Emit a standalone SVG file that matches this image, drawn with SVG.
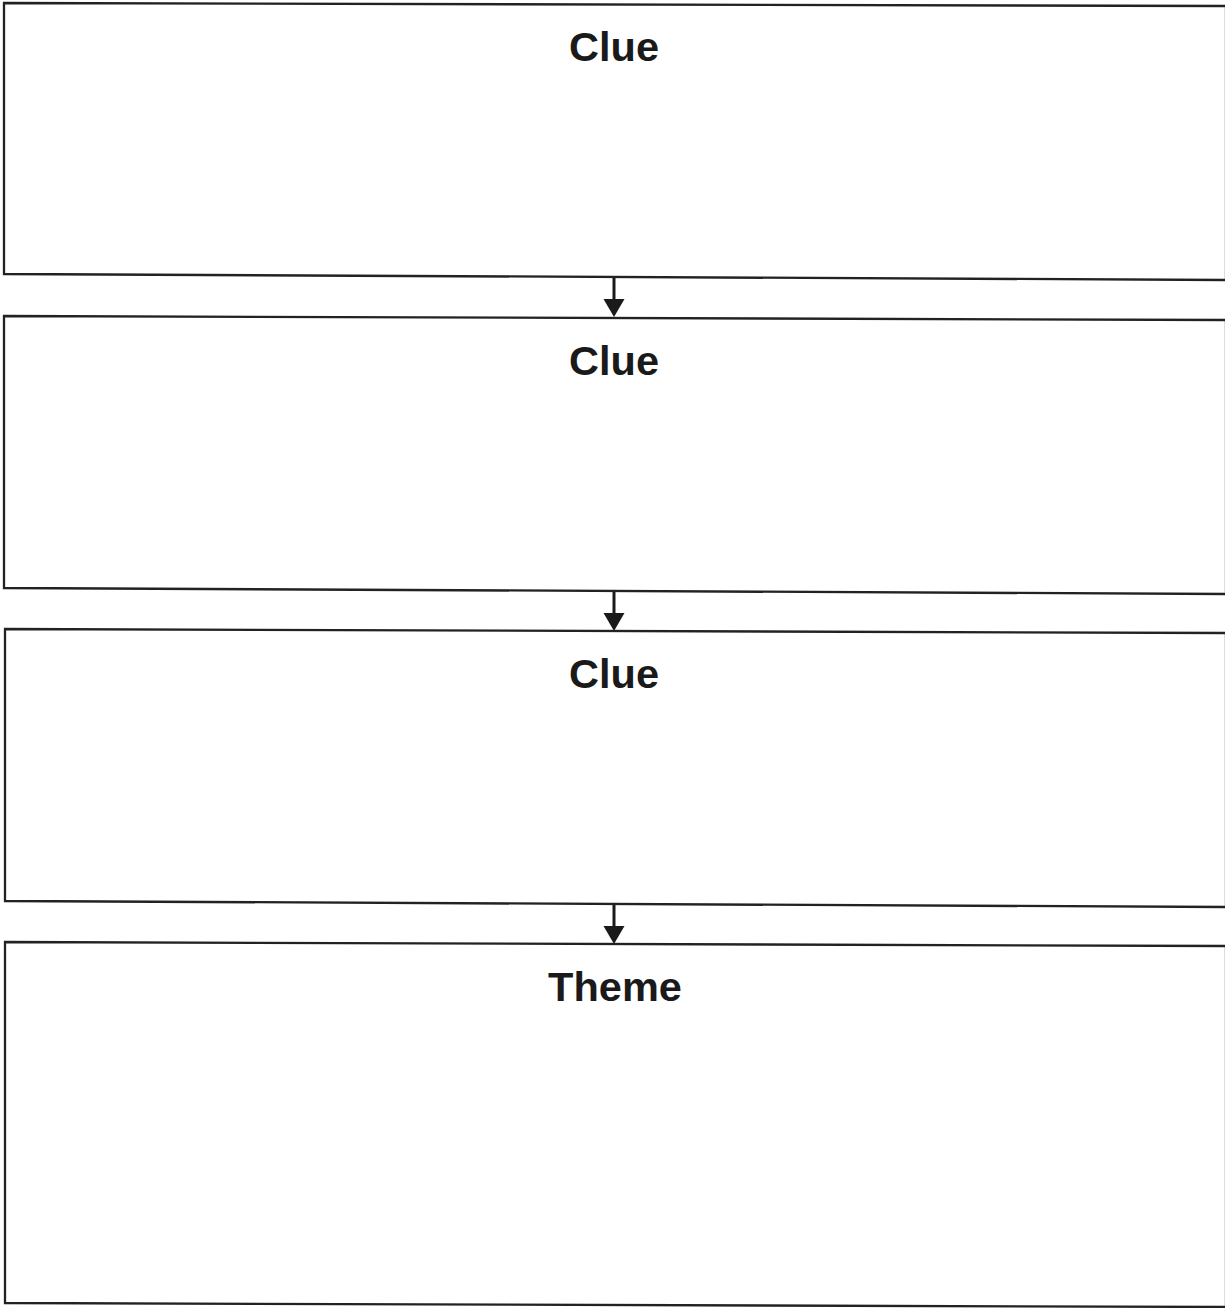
<svg xmlns="http://www.w3.org/2000/svg" width="1225" height="1308" viewBox="0 0 1225 1308">
<style>
.box{fill:#fff;stroke:#222;stroke-width:2.3}
.lbl{font-family:"Liberation Sans",Arial,sans-serif;font-weight:bold;font-size:41.5px;fill:#1a1a1a;text-anchor:middle}
.conn{stroke:#1a1a1a;stroke-width:3;fill:none}
.head{fill:#1a1a1a}
</style>
<rect width="1225" height="1308" fill="#fff"/>
<g id="clue1"><polygon class="box" points="4,3 1226,6 1226,280 4,274"/><text class="lbl" x="614" y="61">Clue</text></g>
<g id="clue2"><polygon class="box" points="4,316 1226,320 1226,594 4,588"/><text class="lbl" x="614" y="375">Clue</text></g>
<g id="clue3"><polygon class="box" points="5,629 1226,633 1226,907 5,901"/><text class="lbl" x="614" y="688">Clue</text></g>
<g id="theme"><polygon class="box" points="5,942 1226,946 1226,1307 5,1303"/><text class="lbl" x="615" y="1001">Theme</text></g>
<g id="connectors">
<line class="conn" x1="614" y1="278" x2="614" y2="300"/><polygon class="head" points="603.5,299 624.5,299 614,317"/>
<line class="conn" x1="614" y1="592" x2="614" y2="614"/><polygon class="head" points="603.5,613 624.5,613 614,631"/>
<line class="conn" x1="614" y1="905" x2="614" y2="927"/><polygon class="head" points="603.5,926 624.5,926 614,944"/>
</g>
</svg>
